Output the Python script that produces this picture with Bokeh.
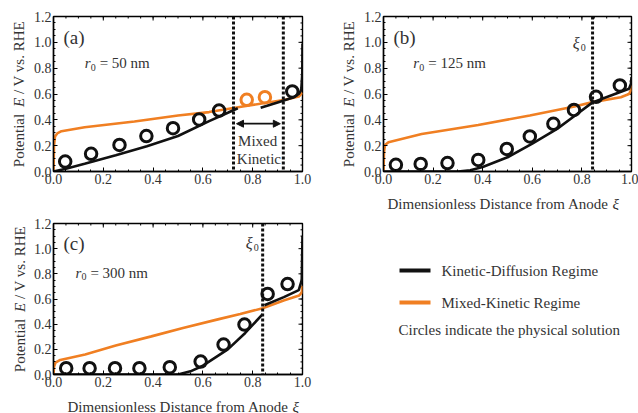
import math
import numpy as np
from bokeh.plotting import figure
from bokeh.layouts import column, row
from bokeh.models import (FixedTicker, Span, Label, Arrow, NormalHead,
                          Range1d, PrintfTickFormatter)
from bokeh.embed import file_html
from bokeh.resources import INLINE

# ---------------- data ----------------
# (a) r0 = 50 nm
a_kd1_x = [0.0, 0.05, 0.125, 0.25, 0.375, 0.5, 0.625, 0.7, 0.74]
a_kd1_y = [0.0, 0.022, 0.06, 0.125, 0.195, 0.275, 0.39, 0.455, 0.49]
a_kd2_x = [0.832, 0.9, 0.965, 0.985, 0.995, 0.999, 1.0]
a_kd2_y = [0.493, 0.535, 0.575, 0.6, 0.63, 0.75, 0.99]
a_mk_x = [0.0, 0.002, 0.006, 0.015, 0.032, 0.125, 0.325, 0.5, 0.625, 0.76, 0.93, 0.985, 1.0]
a_mk_y = [0.0, 0.2, 0.27, 0.295, 0.312, 0.343, 0.387, 0.433, 0.46, 0.503, 0.555, 0.58, 0.61]
a_circ_x = [0.047, 0.151, 0.265, 0.373, 0.48, 0.585, 0.665, 0.959]
a_circ_y = [0.077, 0.137, 0.206, 0.274, 0.335, 0.403, 0.472, 0.62]
a_circ_mk_x = [0.776, 0.849]
a_circ_mk_y = [0.555, 0.575]
a_bounds = [0.723, 0.923]

# (b) r0 = 125 nm
b_kd_x = [0.0, 0.3, 0.35, 0.4, 0.5, 0.6, 0.7, 0.77, 0.843, 0.917, 0.99, 0.998, 1.0]
b_kd_y = [0.0, 0.0, 0.01, 0.035, 0.11, 0.215, 0.33, 0.43, 0.535, 0.588, 0.64, 0.68, 0.73]
b_mk_x = [0.0, 0.002, 0.006, 0.02, 0.154, 0.382, 0.59, 0.77, 0.843, 0.957, 0.99, 0.998, 1.0]
b_mk_y = [0.0, 0.15, 0.205, 0.227, 0.29, 0.36, 0.434, 0.503, 0.537, 0.575, 0.6, 0.63, 0.666]
b_circ_x = [0.05, 0.15, 0.258, 0.382, 0.497, 0.59, 0.685, 0.768, 0.857, 0.953]
b_circ_y = [0.052, 0.059, 0.065, 0.09, 0.175, 0.271, 0.369, 0.477, 0.578, 0.666]
b_xi0 = 0.843

# (c) r0 = 300 nm
c_kd1_x = [0.0, 0.5, 0.55, 0.6, 0.7, 0.77, 0.84]
c_kd1_y = [0.0, 0.0, 0.025, 0.07, 0.2, 0.33, 0.48]
c_kd2_x = [0.847, 0.925, 0.985, 0.997, 1.0]
c_kd2_y = [0.55, 0.615, 0.67, 0.75, 1.1]
c_mk_x = [0.0, 0.002, 0.008, 0.027, 0.127, 0.25, 0.393, 0.52, 0.66, 0.75, 0.84, 0.927, 0.987, 0.997, 1.0]
c_mk_y = [0.0, 0.06, 0.095, 0.116, 0.159, 0.23, 0.303, 0.37, 0.438, 0.48, 0.527, 0.59, 0.628, 0.65, 0.705]
c_circ_x = [0.051, 0.145, 0.247, 0.345, 0.467, 0.591, 0.683, 0.767, 0.86, 0.94]
c_circ_y = [0.05, 0.05, 0.05, 0.05, 0.058, 0.103, 0.238, 0.397, 0.64, 0.719]
c_xi0 = 0.84

x_tick_values = [0.0, 0.2, 0.4, 0.6, 0.8, 1.0]
y_tick_values = [0.0, 0.2, 0.4, 0.6, 0.8, 1.0, 1.2]
x_minor_values = list(np.round(np.arange(0, 1.0001, 0.05), 3))
y_minor_values = list(np.round(np.arange(0, 1.2001, 0.05), 3))

# ---------------- style ----------------
FONT = "Liberation Serif"
TXT = "#333333"
ORANGE = "#F07F22"
BLACK = "#111111"
LW = 2.6
SVG = dict(output_backend="svg", toolbar_location=None)


def lbl(p, x, y, text, size="15px", style="normal", align="left", baseline="middle",
        angle=0.0, xo=0, yo=0, color=TXT):
    p.add_layout(Label(x=x, y=y, text=text, angle=angle, x_offset=xo, y_offset=yo,
                       text_font=FONT, text_font_size=size, text_font_style=style,
                       text_align=align, text_baseline=baseline, text_color=color))


def blank(width, height):
    """A bare canvas in pixel coordinates, used for titles and the key."""
    p = figure(width=width, height=height, x_range=Range1d(0, width), y_range=Range1d(0, height),
               x_axis_location=None, y_axis_location=None, min_border=0,
               outline_line_color=None, **SVG)
    p.grid.visible = False
    # keep this canvas out of the frame alignment of neighbouring plots
    try:
        p.frame_align = False
    except AttributeError:
        pass
    return p


def y_title(width, height, cx, cy):
    p = blank(width, height)
    # Potential E / V vs. RHE  (E in italics), read bottom to top
    pieces = [("Potential", "normal", 0.0), ("E", "italic", 60.1), ("/ V vs. RHE", "normal", 73.1)]
    y0 = cy - 73.2
    for t, st, off in pieces:
        lbl(p, cx, y0 + off, t, style=st, angle=math.pi / 2)
    return p


def x_title(width, height, x0, base):
    p = blank(width, height)
    lbl(p, x0, base, "Dimensionless Distance from Anode", baseline="alphabetic")
    lbl(p, x0 + 225, base, "\u03be", style="italic", baseline="alphabetic")
    return p


def style_axis(ax, ticks, minor):
    ax.ticker = FixedTicker(ticks=ticks, minor_ticks=minor)
    ax.major_tick_in = 4
    ax.major_tick_out = 0
    ax.minor_tick_in = 2
    ax.minor_tick_out = 0
    ax.major_tick_line_color = "black"
    ax.minor_tick_line_color = "black"
    ax.axis_line_color = "black"
    ax.axis_line_width = 1.4
    ax.formatter = PrintfTickFormatter(format="%.1f")
    ax.major_label_text_font = FONT
    ax.major_label_text_font_size = "14px"
    ax.major_label_text_color = TXT
    ax.major_label_standoff = 2


def panel(width, height, left, right, top, bottom, tag, radius, rpos):
    p = figure(width=width, height=height, x_range=Range1d(0, 1), y_range=Range1d(0, 1.2),
               min_border_left=left, min_border_right=right,
               min_border_top=top, min_border_bottom=bottom, **SVG)
    p.grid.visible = False
    p.outline_line_color = "black"
    p.outline_line_width = 1.4
    style_axis(p.xaxis[0], x_tick_values, x_minor_values)
    style_axis(p.yaxis[0], y_tick_values, y_minor_values)
    # inward ticks along the top and right edges of the frame
    for vals, ln in ((x_tick_values, 4), (x_minor_values, 2)):
        p.ray(x=vals, y=[1.2] * len(vals), length=ln, length_units="screen",
              angle=-math.pi / 2, line_color="black", line_width=1)
    for vals, ln in ((y_tick_values, 4), (y_minor_values, 2)):
        p.ray(x=[1.0] * len(vals), y=vals, length=ln, length_units="screen",
              angle=math.pi, line_color="black", line_width=1)

    lbl(p, 0.04, 1.04, tag, size="19px")
    rx, ry = rpos
    lbl(p, rx, ry, "r", style="italic")
    lbl(p, rx, ry, "0", size="10px", xo=6, yo=-4)
    lbl(p, rx, ry, "= " + radius, xo=15)
    return p


def curve(p, x, y, color):
    p.line(x, y, line_color=color, line_width=LW)


def circles(p, x, y, color):
    p.scatter(x, y, marker="circle", size=11.5, fill_color=None, line_color=color, line_width=3)


def boundary(p, loc):
    p.add_layout(Span(location=loc, dimension="height", line_color=BLACK,
                      line_width=3, line_dash="3 2"))


def xi0(p, loc, lx, ly):
    boundary(p, loc)
    lbl(p, lx, ly, "\u03be", size="16px", style="italic")
    lbl(p, lx, ly, "0", size="10px", xo=8, yo=-4)


H1 = 210
H2 = 413 - H1

# (a)
pa = panel(290, H1, 22, 18, 16, H1 - 171, "(a)", "50 nm", (0.125, 0.84))
curve(pa, a_mk_x, a_mk_y, ORANGE)
curve(pa, a_kd1_x, a_kd1_y, BLACK)
curve(pa, a_kd2_x, a_kd2_y, BLACK)
circles(pa, a_circ_x, a_circ_y, BLACK)
circles(pa, a_circ_mk_x, a_circ_mk_y, ORANGE)
for b in a_bounds:
    boundary(pa, b)
pa.add_layout(Arrow(x_start=a_bounds[0] + 0.012, y_start=0.37, x_end=a_bounds[1] - 0.012, y_end=0.37,
                    line_color=BLACK, line_width=1.8,
                    start=NormalHead(size=7, fill_color=BLACK, line_color=BLACK),
                    end=NormalHead(size=7, fill_color=BLACK, line_color=BLACK)))
lbl(pa, 0.82, 0.24, "Mixed", align="center")
lbl(pa, 0.825, 0.10, "Kinetic", align="center")

# (b)
pb = panel(278, 189, 22, 7, 16, 18, "(b)", "125 nm", (0.12, 0.84))
curve(pb, b_mk_x, b_mk_y, ORANGE)
curve(pb, b_kd_x, b_kd_y, BLACK)
circles(pb, b_circ_x, b_circ_y, BLACK)
xi0(pb, b_xi0, 0.763, 0.99)

# (c)
pc_top = 223 - H1
pc_h = 374 - H1 + 18
pc = panel(290, pc_h, 22, 18, pc_top, 18, "(c)", "300 nm", (0.088, 0.81))
curve(pc, c_mk_x, c_mk_y, ORANGE)
curve(pc, c_kd1_x, c_kd1_y, BLACK)
curve(pc, c_kd2_x, c_kd2_y, BLACK)
circles(pc, c_circ_x, c_circ_y, BLACK)
xi0(pc, c_xi0, 0.772, 1.04)

# key
pk = blank(318, H2)
pk.line([79, 110], [H2 - 60, H2 - 60], line_color=BLACK, line_width=4)
pk.line([79, 110], [H2 - 92, H2 - 92], line_color=ORANGE, line_width=4)
lbl(pk, 121, H2 - 60, "Kinetic-Diffusion Regime")
lbl(pk, 121, H2 - 92, "Mixed-Kinetic Regime")
lbl(pk, 78, H2 - 119, "Circles indicate the physical solution")

top_row = row(y_title(30, H1, 18, H1 - 93.5), pa,
              y_title(40, H1, 28, H1 - 93.5),
              column(pb, x_title(278, H1 - 189, 27, 7)))
bottom_row = row(y_title(30, H2, 19, H2 - (298.5 - H1)),
                 column(pc, x_title(290, H2 - pc_h, 37, 7)),
                 pk)
layout = column(top_row, bottom_row)
open("out.html", "w").write(file_html(layout, INLINE))
